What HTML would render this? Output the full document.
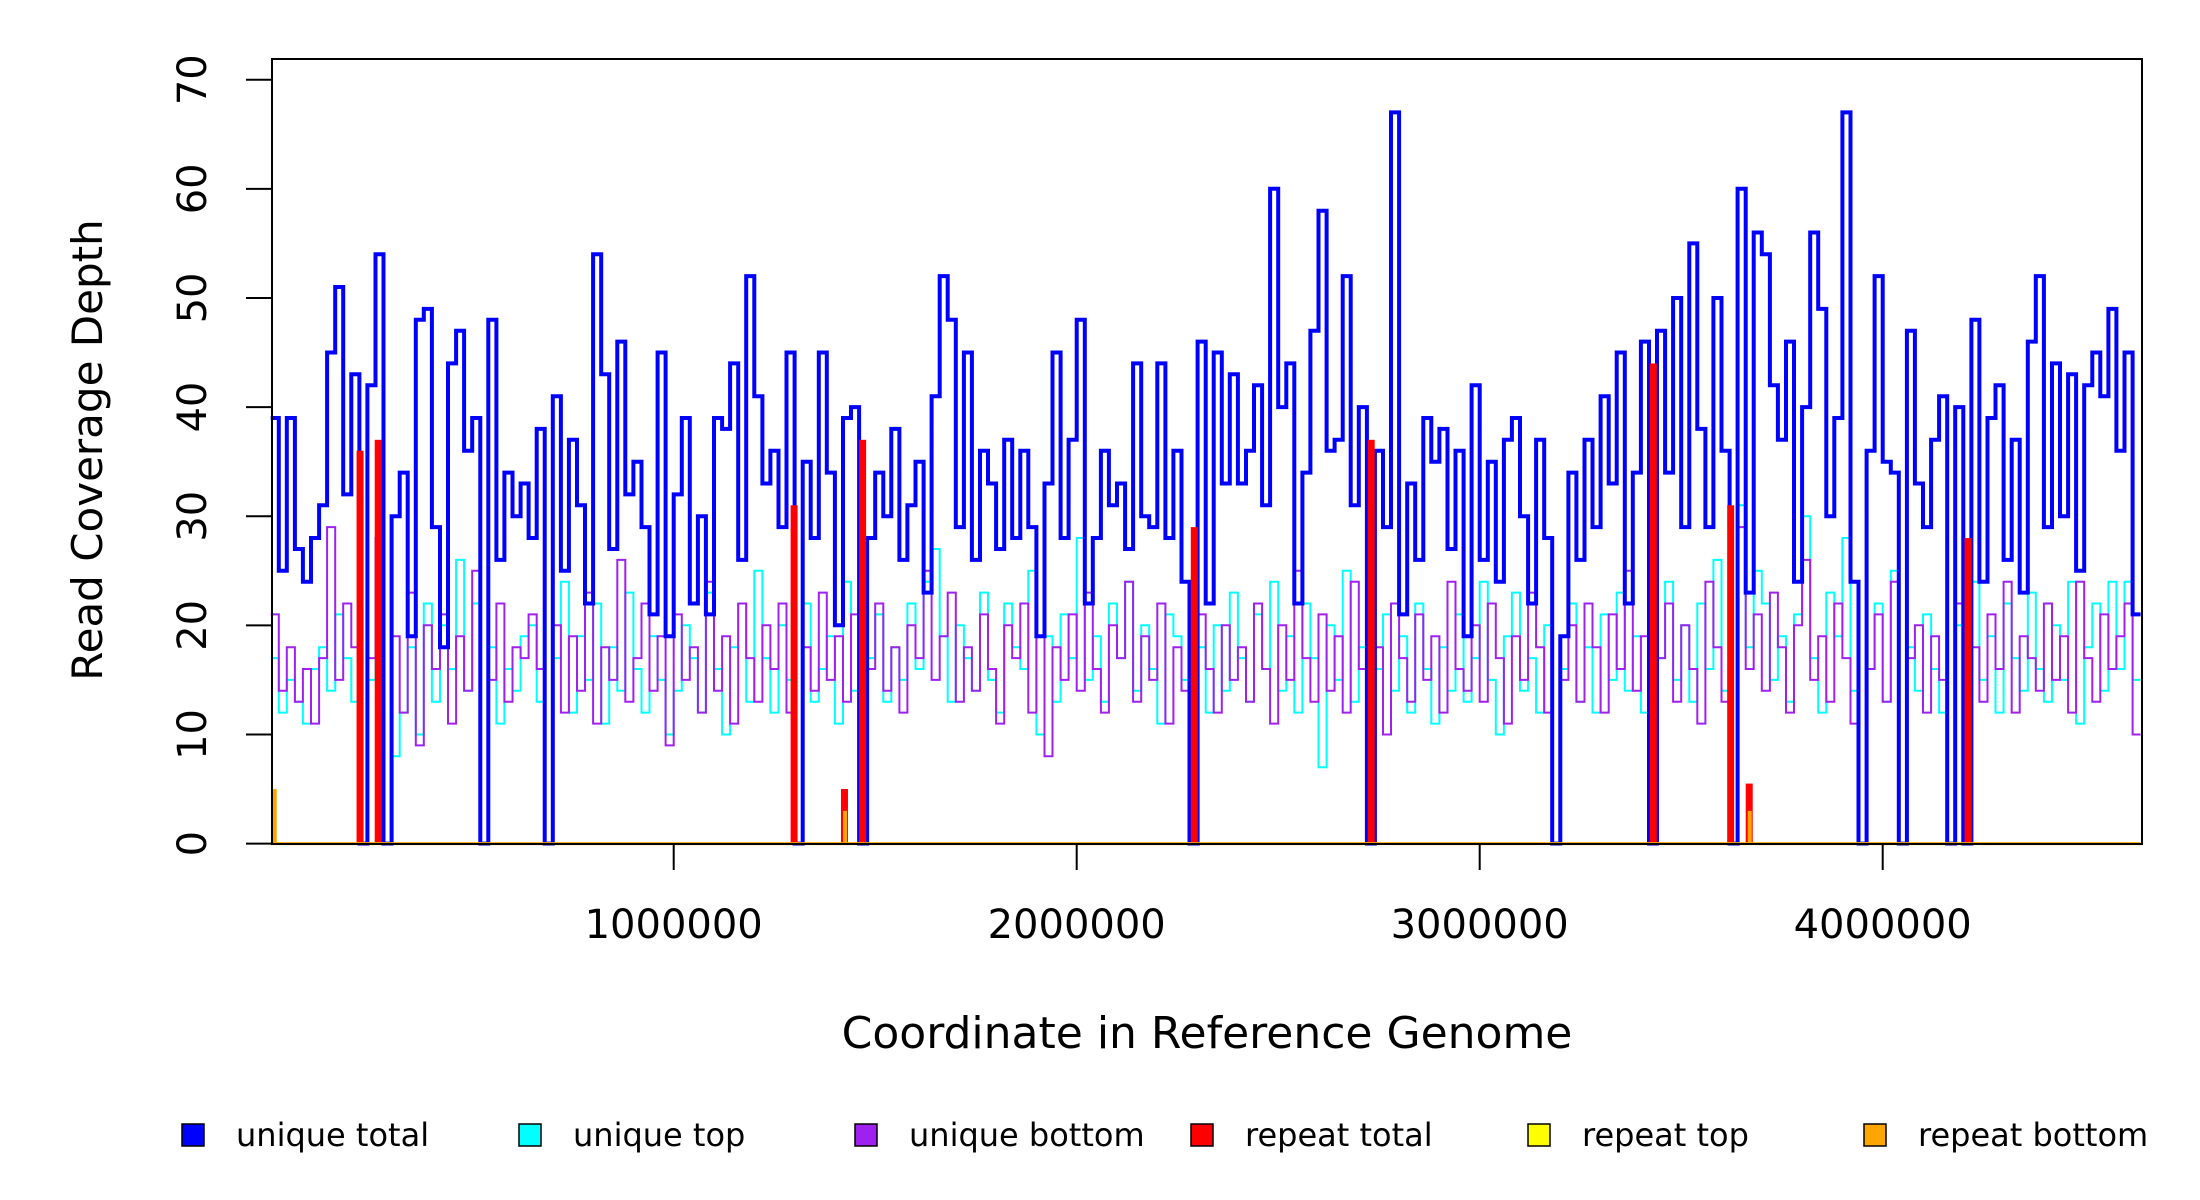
<!DOCTYPE html>
<html><head><meta charset="utf-8">
<style>
html,body{margin:0;padding:0;background:#fff;}
svg{display:block;font-family:"DejaVu Sans","Liberation Sans",sans-serif;}
</style></head>
<body>
<svg id="chart" width="2200" height="1200" viewBox="0 0 2200 1200" xmlns="http://www.w3.org/2000/svg">
<rect x="0" y="0" width="2200" height="1200" fill="#fff"/>
<g id="marks"></g>
<rect x="272" y="59" width="1870" height="785" fill="none" stroke="#000" stroke-width="2"/>
<g id="axes"></g>
<text x="1207" y="1048" font-size="44" text-anchor="middle">Coordinate in Reference Genome</text>
<text transform="translate(102,450) rotate(-90)" font-size="42" text-anchor="middle">Read Coverage Depth</text>
<g id="legend"></g>
</svg>
<script>
const binSize = 20000;
const uniqueTotal = [
39,25,39,27,24,28,31,45,51,32,43,0,42,54,0,30,34,19,48,49,
29,18,44,47,36,39,0,48,26,34,30,33,28,38,0,41,25,37,31,22,
54,43,27,46,32,35,29,21,45,19,32,39,22,30,21,39,38,44,26,52,
41,33,36,29,45,0,35,28,45,34,20,39,40,0,28,34,30,38,26,31,
35,23,41,52,48,29,45,26,36,33,27,37,28,36,29,19,33,45,28,37,
48,22,28,36,31,33,27,44,30,29,44,28,36,24,0,46,22,45,33,43,
33,36,42,31,60,40,44,22,34,47,58,36,37,52,31,40,0,36,29,67,
21,33,26,39,35,38,27,36,19,42,26,35,24,37,39,30,22,37,28,0,
19,34,26,37,29,41,33,45,22,34,46,0,47,34,50,29,55,38,29,50,
36,0,60,23,56,54,42,37,46,24,40,56,49,30,39,67,24,0,36,52,
35,34,0,47,33,29,37,41,0,40,0,48,24,39,42,26,37,23,46,52,
29,44,30,43,25,42,45,41,49,36,45,21];
const uniqueTop = [
17,12,15,13,11,16,18,14,21,17,13,0,15,26,0,8,12,18,10,22,
13,20,16,26,14,22,0,18,11,16,14,19,20,13,0,17,24,12,19,15,
22,11,18,14,23,16,12,19,15,10,14,20,17,12,23,16,10,18,22,13,
25,17,12,20,15,0,22,13,16,19,11,24,14,0,17,21,13,18,15,22,
16,24,27,19,13,20,17,14,23,15,12,22,18,16,25,10,19,13,21,17,
28,15,19,13,22,17,24,14,20,16,11,21,19,15,0,18,12,20,14,23,
17,13,21,16,24,14,19,12,22,17,7,20,15,25,13,18,0,16,21,14,
19,12,22,16,11,18,14,21,13,17,24,15,10,19,23,14,17,12,20,0,
16,22,13,18,12,21,15,23,14,19,12,0,17,24,15,20,13,22,16,26,
14,0,31,18,25,22,15,19,13,21,30,17,12,23,19,28,14,0,16,22,
13,25,0,18,14,21,16,12,0,20,0,24,15,19,12,22,17,14,23,16,
13,20,15,24,11,18,22,14,24,16,24,15];
const uniqueBottom = [
21,14,18,13,16,11,17,29,15,22,18,0,17,28,0,19,12,23,9,20,
16,21,11,19,14,25,0,15,22,13,18,17,21,16,0,20,12,19,14,23,
11,18,15,26,13,17,22,14,19,9,21,15,18,12,24,14,19,11,22,17,
13,20,16,22,12,0,18,14,23,15,19,13,21,0,16,22,14,18,12,20,
17,25,15,19,23,13,18,14,21,16,11,20,17,22,12,19,8,18,15,21,
14,23,16,12,20,17,24,13,19,15,22,11,18,14,0,21,16,12,20,15,
18,13,22,16,11,20,15,25,17,13,21,14,19,12,24,16,0,18,10,22,
17,13,21,15,19,12,24,16,14,20,13,22,17,11,19,15,23,18,12,0,
15,20,13,22,18,12,21,16,25,14,19,0,17,22,13,20,16,11,24,18,
13,0,29,16,21,14,23,18,12,20,26,15,19,13,22,17,11,0,16,21,
13,24,0,17,20,12,19,15,0,22,0,18,13,21,16,24,12,19,17,14,
22,15,19,12,24,17,13,21,16,19,22,10];
const repeatPos = [223000,268000,1300000,1425000,1470000,2293000,2732000,3432000,3624000,3670000,4213000];
const repeatTotal = [36,37,31,5,37,29,37,44,31,5.5,28];
const repeatBottomPos = [10000,1425000,3670000];
const repeatBottom = [5,3,3];
const yTicks = [0,10,20,30,40,50,60,70];
const xTicks = [1000000,2000000,3000000,4000000];
const genomeLen = 4640000;

const NS = "http://www.w3.org/2000/svg";
const X0 = 270.7, XPM = 403, YB = 843.6, YPU = (843.6-79.7)/70;
function xs(c){ return X0 + c/1e6*XPM; }
function ys(v){ return YB - v*YPU; }
const marks = document.getElementById('marks');
const axes = document.getElementById('axes');
const legend = document.getElementById('legend');
function mk(tag, attrs, parent){
  const e = document.createElementNS(NS, tag);
  for (const k in attrs) e.setAttribute(k, attrs[k]);
  parent.appendChild(e);
  return e;
}
function stepPath(vals){
  let d = "M" + xs(0).toFixed(1) + " " + ys(vals[0]).toFixed(1);
  for (let i = 0; i < vals.length; i++){
    const xe = Math.min(xs((i+1)*binSize), xs(genomeLen));
    d += " H" + xe.toFixed(1);
    if (i+1 < vals.length) d += " V" + ys(vals[i+1]).toFixed(1);
  }
  return d;
}
let p;
p = mk('path', {d: stepPath(uniqueTop), fill:'none', stroke:'#00ffff', 'stroke-width':2}, marks);


p = mk('path', {d: stepPath(uniqueBottom), fill:'none', stroke:'#a020f0', 'stroke-width':2}, marks);


p = mk('path', {d: stepPath(uniqueTotal), fill:'none', stroke:'#0000ff', 'stroke-width':4}, marks);


repeatPos.forEach((c, i) => {
  const r = mk('rect', {x: xs(c)-4, y: ys(repeatTotal[i]), width: 7, height: ys(0)-ys(repeatTotal[i]), fill:'#ff0000'}, marks);
  
  
});
repeatBottomPos.forEach((c, i) => {
  const r = mk('rect', {x: xs(c)-2, y: ys(repeatBottom[i]), width: 4, height: ys(0)-ys(repeatBottom[i]), fill:'#ffa500'}, marks);
  
  
});
p = mk('line', {x1: xs(0), x2: xs(genomeLen), y1: ys(0), y2: ys(0), stroke:'#ffa500', 'stroke-width':3}, marks);



yTicks.forEach(v => {
  const l = mk('line', {x1: 246, x2: 272, y1: ys(v), y2: ys(v), stroke:'#000', 'stroke-width':2}, axes);
  
  
  const t = mk('text', {transform: 'translate(206,' + ys(v) + ') rotate(-90)', 'font-size': 40, 'text-anchor':'middle'}, axes);
  t.textContent = String(v);
  
  
});
xTicks.forEach(v => {
  const l = mk('line', {x1: xs(v), x2: xs(v), y1: 844, y2: 870, stroke:'#000', 'stroke-width':2}, axes);
  
  
  const t = mk('text', {x: xs(v), y: 938, 'font-size': 40, 'text-anchor':'middle'}, axes);
  t.textContent = String(v);
  
  
});

const legendLabels = ['unique total','unique top','unique bottom','repeat total','repeat top','repeat bottom'];
const legendColors = ['#0000ff','#00ffff','#a020f0','#ff0000','#ffff00','#ffa500'];
const legendX = [182,519,855,1191,1528,1864];
legendLabels.forEach((lab, i) => {
  const r = mk('rect', {x: legendX[i], y: 1124, width: 22, height: 22, fill: legendColors[i], stroke:'#000', 'stroke-width':1.5}, legend);
  
  
  const t = mk('text', {x: legendX[i]+54, y: 1146, 'font-size': 32}, legend);
  t.textContent = lab;
  
  
});
</script>
</body></html>
